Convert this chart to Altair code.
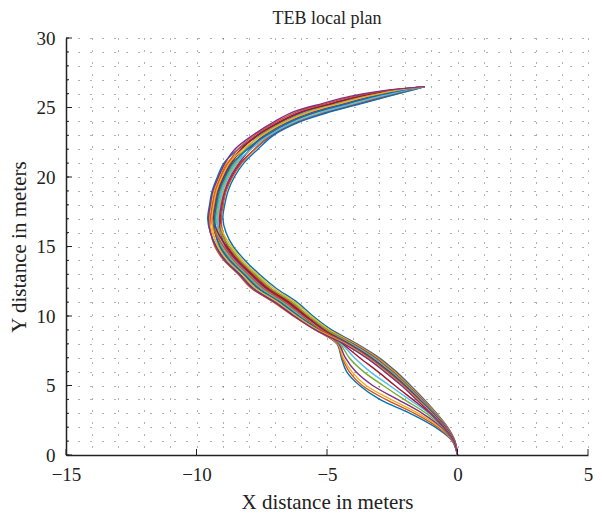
import altair as alt
import pandas as pd

# y levels shared by all trajectories (meters)
Y_LEVELS = [0, 1, 2, 3, 4, 5, 6, 7, 8, 9, 10, 11, 12, 13, 14, 15, 16, 17, 18, 19,
            20, 21, 22, 23, 24, 24.7, 25.3, 25.8, 26.2, 26.5]

# x positions (meters) of each plan at the y levels above
B1_X = [0, -0.20, -0.85, -1.82, -2.98, -3.75, -4.25, -4.45, -4.62, -5.39, -6.22, -6.96, -7.80, -8.32, -8.87, -9.23, -9.47, -9.57, -9.50, -9.40, -9.20, -8.95, -8.41, -7.61, -6.70, -5.84, -4.70, -3.69, -2.59, -1.25]
B2_X = [0, -0.19, -0.75, -1.65, -2.75, -3.65, -4.15, -4.42, -4.60, -5.45, -6.30, -7.05, -7.90, -8.40, -8.95, -9.30, -9.45, -9.47, -9.40, -9.30, -9.09, -8.82, -8.03, -7.21, -6.05, -4.92, -3.72, -2.72, -1.90, -1.25]
B3_X = [0, -0.18, -0.68, -1.50, -2.55, -3.50, -4.05, -4.38, -4.58, -5.32, -6.14, -6.86, -7.70, -8.23, -8.78, -9.15, -9.40, -9.51, -9.44, -9.33, -9.13, -8.87, -8.10, -7.40, -6.55, -5.60, -3.75, -2.70, -1.85, -1.25]
B4_X = [0, -0.17, -0.62, -1.35, -2.30, -3.25, -3.90, -4.30, -4.55, -5.26, -6.06, -6.77, -7.60, -8.15, -8.70, -9.08, -9.30, -9.38, -9.31, -9.20, -8.98, -8.70, -8.31, -7.69, -6.80, -5.99, -4.85, -3.83, -2.69, -1.25]
B5_X = [0, -0.16, -0.58, -1.20, -2.05, -2.85, -3.60, -4.15, -4.50, -5.22, -6.02, -6.72, -7.55, -8.10, -8.65, -9.04, -9.23, -9.28, -9.21, -9.09, -8.88, -8.57, -8.05, -7.37, -6.40, -5.42, -4.24, -3.24, -2.27, -1.25]
B6_X = [0, -0.15, -0.55, -1.10, -1.85, -2.60, -3.35, -3.95, -4.45, -5.13, -5.90, -6.58, -7.40, -7.98, -8.53, -8.93, -9.13, -9.18, -9.11, -8.99, -8.77, -8.44, -8.10, -7.57, -6.65, -5.77, -4.62, -3.61, -2.53, -1.25]
B7_X = [0, -0.15, -0.54, -1.05, -1.72, -2.40, -3.05, -3.75, -4.40, -5.03, -5.78, -6.43, -7.25, -7.85, -8.40, -8.81, -9.02, -9.08, -9.01, -8.89, -8.66, -8.31, -7.77, -7.13, -6.10, -4.99, -3.79, -2.80, -1.96, -1.25]
M1_X = [0, -0.10, -0.38, -0.80, -1.28, -1.80, -2.35, -3.00, -3.85, -4.82, -5.54, -6.15, -6.95, -7.59, -8.14, -8.59, -8.87, -8.99, -8.92, -8.79, -8.55, -8.19, -7.65, -7.05, -6.00, -4.85, -3.64, -2.65, -1.85, -1.25]
M2_X = [0, -0.10, -0.39, -0.82, -1.31, -1.84, -2.40, -3.05, -3.90, -4.93, -5.74, -6.39, -7.20, -7.81, -8.36, -8.78, -8.99, -9.05, -8.98, -8.86, -8.62, -8.27, -7.77, -7.17, -6.15, -5.06, -3.87, -2.87, -2.01, -1.25]
M3_X = [0, -0.11, -0.41, -0.84, -1.34, -1.87, -2.44, -3.10, -3.95, -4.91, -5.62, -6.24, -7.05, -7.68, -8.23, -8.66, -8.99, -9.15, -9.08, -8.96, -8.73, -8.40, -7.91, -7.29, -6.30, -5.28, -4.09, -3.09, -2.17, -1.25]
M4_X = [0, -0.11, -0.42, -0.87, -1.37, -1.91, -2.49, -3.15, -4.00, -5.04, -5.86, -6.53, -7.35, -7.93, -8.48, -8.89, -9.08, -9.12, -9.05, -8.92, -8.70, -8.36, -7.96, -7.41, -6.45, -5.49, -4.32, -3.32, -2.32, -1.25]
M5_X = [0, -0.12, -0.44, -0.89, -1.40, -1.94, -2.53, -3.20, -4.05, -5.01, -5.70, -6.34, -7.15, -7.76, -8.31, -8.74, -9.08, -9.25, -9.18, -9.06, -8.84, -8.53, -8.12, -7.53, -6.60, -5.70, -4.55, -3.54, -2.48, -1.25]
M6_X = [0, -0.12, -0.45, -0.91, -1.43, -1.98, -2.58, -3.25, -4.10, -5.16, -5.98, -6.67, -7.50, -8.06, -8.61, -9.00, -9.18, -9.21, -9.14, -9.03, -8.80, -8.48, -7.91, -7.21, -6.20, -5.13, -3.94, -2.95, -2.06, -1.25]
M7_X = [0, -0.12, -0.46, -0.93, -1.46, -2.01, -2.62, -3.30, -4.15, -5.13, -5.82, -6.48, -7.30, -7.89, -8.44, -8.85, -9.18, -9.34, -9.27, -9.16, -8.95, -8.65, -8.27, -7.65, -6.75, -5.92, -4.77, -3.76, -2.64, -1.25]
M8_X = [0, -0.13, -0.48, -0.95, -1.49, -2.05, -2.67, -3.35, -4.20, -5.27, -6.10, -6.81, -7.65, -8.19, -8.74, -9.11, -9.28, -9.31, -9.24, -9.13, -8.91, -8.61, -8.05, -7.33, -6.35, -5.35, -4.17, -3.17, -2.22, -1.25]
M9_X = [0, -0.13, -0.49, -0.98, -1.52, -2.08, -2.71, -3.40, -4.25, -5.24, -5.94, -6.62, -7.45, -8.02, -8.57, -8.96, -9.28, -9.44, -9.37, -9.26, -9.06, -8.78, -8.41, -7.77, -6.90, -6.13, -5.00, -3.98, -2.80, -1.25]
M10_X = [0, -0.14, -0.51, -1.00, -1.55, -2.12, -2.76, -3.45, -4.30, -5.37, -6.18, -6.91, -7.75, -8.27, -8.82, -9.19, -9.36, -9.41, -9.34, -9.23, -9.02, -8.74, -8.22, -7.49, -6.55, -5.63, -4.47, -3.46, -2.43, -1.25]
M11_X = [0, -0.14, -0.52, -1.02, -1.58, -2.15, -2.80, -3.50, -4.35, -5.44, -6.26, -7.00, -7.85, -8.36, -8.91, -9.26, -9.47, -9.54, -9.47, -9.37, -9.16, -8.91, -8.53, -7.85, -7.00, -6.27, -5.15, -4.13, -2.90, -1.25]

SERIES = [("B1", B1_X), ("B2", B2_X), ("B3", B3_X), ("B4", B4_X), ("B5", B5_X),
          ("B6", B6_X), ("B7", B7_X), ("M1", M1_X), ("M2", M2_X), ("M3", M3_X),
          ("M4", M4_X), ("M5", M5_X), ("M6", M6_X), ("M7", M7_X), ("M8", M8_X),
          ("M9", M9_X), ("M10", M10_X), ("M11", M11_X)]

MATLAB_COLORS = ["#0072BD", "#D95319", "#EDB120", "#7E2F8E", "#77AC30", "#4DBEEE", "#A2142F"]

X_TICKS = [-15, -10, -5, 0, 5]
Y_TICKS = [0, 5, 10, 15, 20, 25, 30]
X_GRID = list(range(-15, 6))
Y_GRID = list(range(0, 31))

rows = []
for k, (name, xs) in enumerate(SERIES):
    for i, (xv, yv) in enumerate(zip(xs, Y_LEVELS)):
        rows.append({"line": name, "i": i, "x": xv, "y": yv})
df = pd.DataFrame(rows)

names = [s[0] for s in SERIES]
colors = [MATLAB_COLORS[i % 7] for i in range(len(names))]

W, H = 522, 417
FONT = "Liberation Serif"
TXT = "#222222"

xscale = alt.Scale(domain=[-15, 5], nice=False, zero=False)
yscale = alt.Scale(domain=[0, 30], nice=False, zero=False)

common_axis = dict(ticks=False, grid=True, gridDash=[1, 11], gridColor="#555555",
                   gridWidth=1, gridOpacity=0.9, domainColor=TXT, domainWidth=1.5,
                   labelFont=FONT, labelFontSize=19, labelColor=TXT, labelFlush=False,
                   labelExpr="datum.value % 5 === 0 ? datum.label : ''",
                   titleFont=FONT, titleFontSize=21, titleFontWeight="normal",
                   titleColor=TXT)

x_axis = alt.Axis(values=X_GRID, labelPadding=10, title="X distance in meters",
                  titlePadding=7, **common_axis)
y_axis = alt.Axis(values=Y_GRID, labelPadding=11, title="Y distance in meters",
                  titlePadding=7, **common_axis)

X_ENC = alt.X("x:Q", scale=xscale, axis=x_axis)
Y_ENC = alt.Y("y:Q", scale=yscale, axis=y_axis)

lines = alt.Chart(df).mark_line(strokeWidth=1.4, interpolate="catmull-rom").encode(
    x=X_ENC,
    y=Y_ENC,
    color=alt.Color("line:N", scale=alt.Scale(domain=names, range=colors), legend=None),
    order=alt.Order("i:Q"),
)

xt = alt.Chart(pd.DataFrame({"x": X_TICKS})).mark_rule(color=TXT, strokeWidth=1).encode(
    x=X_ENC, y=alt.value(H), y2=alt.value(H - 6),
)
yt_major = alt.Chart(pd.DataFrame({"y": Y_TICKS})).mark_rule(color=TXT, strokeWidth=1).encode(
    y=Y_ENC, x=alt.value(0), x2=alt.value(6),
)
yt_minor = alt.Chart(pd.DataFrame({"y": Y_GRID})).mark_rule(color=TXT, strokeWidth=1).encode(
    y=Y_ENC, x=alt.value(0), x2=alt.value(3),
)

chart = alt.layer(lines, xt, yt_major, yt_minor).properties(
    width=W, height=H,
    title=alt.Title("TEB local plan", font=FONT, fontSize=18, fontWeight="normal",
                    color=TXT, offset=1),
    padding={"left": 58, "top": 30, "right": 6, "bottom": 62},
    autosize=alt.AutoSizeParams(type="none"),
).configure_view(stroke=None)

chart.save("out.html", embed_options={"renderer": "svg", "actions": False})
